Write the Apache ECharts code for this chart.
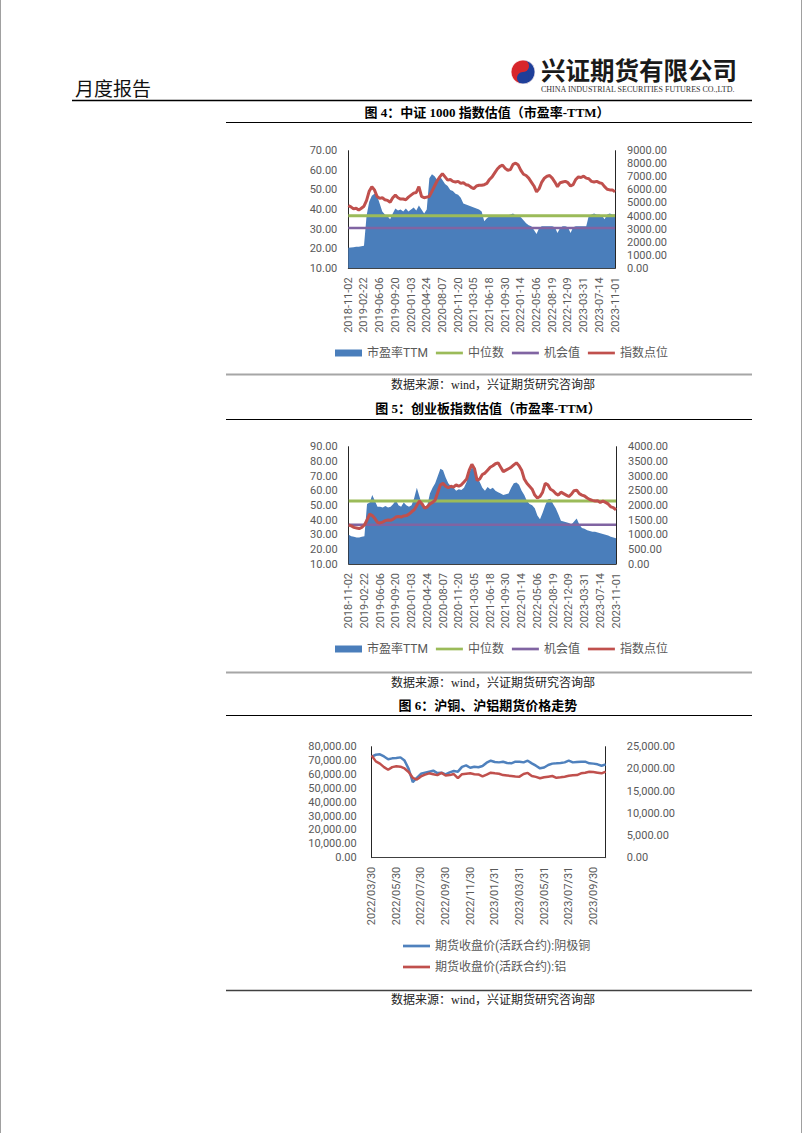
<!DOCTYPE html>
<html><head><meta charset="utf-8">
<script src="https://cdn.jsdelivr.net/npm/echarts@6/dist/echarts.min.js"></script>
<style>html,body{margin:0;padding:0;background:#fff}#c{width:802px;height:1133px}</style>
</head><body><div id="c"></div>
<script>
// ---------- Figure 4: CSI 1000 ----------
const TICKS_1 = ['2018-11-02','2019-02-22','2019-06-06','2019-09-20','2020-01-03','2020-04-24','2020-08-07','2020-11-20','2021-03-05','2021-06-18','2021-09-30','2022-01-14','2022-05-06','2022-08-19','2022-12-09','2023-03-31','2023-07-14','2023-11-01'];
const PE_1 = [
 20.5,20.6,20.8,21.0,21.0,21.3,
 21.5,37,44,47,48,47,
 43,39,37.5,36.5,35,38,
 40.5,39.5,40,39,40.5,39,
 40,41,39.5,42,40,38,
 40,56,58,57,55,57,
 55,53,52,50,49.5,48,
 47.5,46,43,42.5,42,41.5,
 41,40.5,40,39,34,35.5,
 36.5,36.5,37,36.5,37,36.5,
 36.5,37,37.5,38,37,36.5,
 36,34.5,33,32,31.5,29.5,
 27.5,30.5,31.5,31.5,31.5,31.5,
 31.5,31,28,30.5,31.5,31.5,
 31,28,31,31.5,31.5,31.5,
 31.5,31.5,37,37.5,38,37.5,
 37.5,37,35,37.5,38,37.5,
 37.5];
const INDEX_1 = [
 4800,4700,4550,4600,4450,4600,
 4750,5200,5900,6250,6000,5500,
 5350,5400,5250,5200,5050,5400,
 5600,5400,5300,5300,5250,5450,
 5600,5750,5800,6250,5500,5400,
 5450,5500,5900,6300,6700,7000,
 7250,7000,6750,6800,6650,6600,
 6650,6500,6550,6400,6350,6200,
 6100,6300,6350,6350,6400,6500,
 6800,7000,7300,7600,7800,7900,
 7650,7500,7550,7950,8050,7900,
 7500,7200,7100,6900,6600,6300,
 5850,6100,6600,6900,7050,7100,
 6900,6600,6250,6550,6600,6650,
 6550,6300,6400,6800,7000,6950,
 7050,6900,6850,6650,6600,6650,
 6550,6500,6250,6050,6000,6000,
 5850];
const MEDIAN_1 = 36.8;
const CHANCE_1 = 30.6;

// ---------- Figure 5: ChiNext ----------
const TICKS_2 = ['2018-11-02','2019-02-22','2019-06-06','2019-09-20','2020-01-03','2020-04-24','2020-08-07','2020-11-20','2021-03-05','2021-06-18','2021-09-30','2022-01-14','2022-05-06','2022-08-19','2022-12-09','2023-03-31','2023-07-14','2023-11-01'];
const PE_2 = [
 30,29,28.5,28,28,28.5,
 29,51,52,57,53,49,
 49,48.5,49.5,48.5,49,51,
 53.5,50,49,52,50,49,
 50,55,62,56,50,49,
 50,58,62,65,70,75,
 74,69,65,63,62,60,
 61,60.5,62,66,72,76,
 74,69,66,62,60,62.5,
 61,62,60,59,58,57,
 57.5,58,62,65,65.5,64,
 60,57,53,51,50,48,
 43,40.5,45,50,54,54.5,
 51,48,44,39.5,39,38.5,
 38,37,39,41,37,34.5,
 34,33,32.5,32,32,31.5,
 31,30.5,30,29.5,28.5,28,
 27.5];
const INDEX_2 = [
 1330,1300,1250,1230,1210,1250,
 1330,1500,1700,1650,1550,1420,
 1400,1430,1480,1500,1490,1530,
 1600,1620,1600,1640,1650,1700,
 1780,1850,2000,2150,2050,1900,
 1950,2050,2100,2180,2450,2700,
 2750,2650,2600,2650,2620,2700,
 2650,2700,2800,2900,3200,3400,
 3250,2850,2900,3050,3100,3200,
 3300,3350,3420,3450,3300,3150,
 3200,3250,3300,3380,3450,3350,
 3200,2900,2750,2650,2550,2350,
 2250,2300,2450,2750,2700,2550,
 2500,2400,2350,2450,2400,2350,
 2300,2380,2500,2520,2400,2350,
 2320,2250,2200,2170,2150,2160,
 2100,2150,2100,2050,1950,1920,
 1850];
const MEDIAN_2 = 53.0;
const CHANCE_2 = 36.8;

// ---------- Figure 6: SHFE copper & aluminium ----------
const TICKS_3 = ['2022/03/30','2022/05/30','2022/07/30','2022/09/30','2022/11/30','2023/01/31','2023/03/31','2023/05/31','2023/07/31','2023/09/30'];
const COPPER = [
 72800,74200,74500,73000,71000,71600,
 71800,72300,70000,64000,54500,57500,
 60500,61300,62000,62700,61000,61300,
 60000,61500,62500,62000,65500,66500,
 64800,65600,65200,66100,68500,69900,
 69000,68700,69200,68300,68000,69200,
 69200,68700,69900,68000,66300,64400,
 65000,66800,67800,68000,68300,68700,
 69900,68700,69000,69200,69200,68000,
 67800,67300,66300,67300];
const ALUMINUM = [
 23000,21700,21200,20400,19800,20400,
 20600,20500,20100,19300,18000,17600,
 18300,18700,19000,18800,18600,19100,
 18500,18600,18850,17900,18800,18900,
 19000,18800,18750,18300,18700,19150,
 19000,18900,18600,18500,18400,18300,
 18250,18850,19100,18400,18200,17900,
 18100,18250,18400,18000,18100,18250,
 18450,18550,18600,19000,19150,19350,
 19300,19150,19000,19370];

// ---------- helpers ----------
function slots(ticks, per, tail) {
  const out = [];
  ticks.forEach((t, k) => {
    out.push(t);
    const n = k < ticks.length - 1 ? per - 1 : tail;
    for (let j = 1; j <= n; j++) out.push(t + '#' + j);
  });
  return out;
}
const CAT_1 = slots(TICKS_1, 6, 0);
const CAT_2 = slots(TICKS_2, 6, 0);
const CAT_3 = slots(TICKS_3, 6, 3);

const NUM_FONT = 'Roboto, "Noto Sans CJK SC", sans-serif';
const SERIF = '"Liberation Serif", "Noto Sans CJK SC", serif';
const AX_COLOR = '#595959';
const LINE_ICON = 'path://M0,0H30V3H0Z';
const BLUE = '#4A7EBB', GREEN = '#9BBB59', PURPLE = '#8064A2', RED = '#C0504D';

function xCat(gridIndex, data) {
  return {
    type: 'category', gridIndex, data, boundaryGap: false,
    axisLine: {show: true, lineStyle: {color: '#404040', width: 1}},
    axisTick: {show: false},
    axisLabel: {
      interval: (i, v) => String(v).indexOf('#') < 0,
      rotate: 90, margin: 9, color: AX_COLOR, fontSize: 11, fontFamily: NUM_FONT
    },
    splitLine: {show: false}
  };
}
function yVal(gridIndex, pos, min, max, interval, fmt, margin) {
  return {
    type: 'value', gridIndex, position: pos, min, max, interval,
    axisLine: {show: true, lineStyle: {color: '#262626', width: 1}},
    axisTick: {show: false},
    splitLine: {show: false},
    axisLabel: {formatter: fmt, margin, color: AX_COLOR, fontSize: 11, fontFamily: NUM_FONT}
  };
}
const f2 = v => v.toFixed(2);
const fc = v => v.toLocaleString('en-US', {minimumFractionDigits: 2, maximumFractionDigits: 2});

function valuationSeries(xi, yl, yr, cats, pe, idx, med, chance) {
  return [
    {name: '市盈率TTM', type: 'line', xAxisIndex: xi, yAxisIndex: yl, data: pe, symbol: 'none',
     lineStyle: {width: 0}, itemStyle: {color: BLUE}, areaStyle: {color: BLUE, opacity: 1, origin: 'start'}},
    {name: '中位数', type: 'line', xAxisIndex: xi, yAxisIndex: yl, data: cats.map(() => med), symbol: 'none',
     lineStyle: {width: 3, color: GREEN}, itemStyle: {color: GREEN}},
    {name: '机会值', type: 'line', xAxisIndex: xi, yAxisIndex: yl, data: cats.map(() => chance), symbol: 'none',
     lineStyle: {width: 2.5, color: PURPLE}, itemStyle: {color: PURPLE}},
    {name: '指数点位', type: 'line', xAxisIndex: xi, yAxisIndex: yr, data: idx, symbol: 'none',
     lineStyle: {width: 3, color: RED}, itemStyle: {color: RED}}
  ];
}
function valuationLegend(top) {
  return {
    left: 330, top, itemWidth: 27, itemHeight: 7, itemGap: 8,
    itemStyle: {borderWidth: 0},
    textStyle: {fontSize: 12, color: AX_COLOR, fontFamily: NUM_FONT},
    data: [{name: '市盈率TTM', icon: 'rect'}, {name: '中位数', icon: LINE_ICON},
           {name: '机会值', icon: LINE_ICON}, {name: '指数点位', icon: LINE_ICON}]
  };
}

// ---------- page graphics ----------
const G = [];
function txt(x, y, s, font, fill, align) {
  G.push({type: 'text', silent: true, style: {x, y, text: s, font, fill,
    align: align || 'left', textAlign: align || 'left', verticalAlign: 'middle', textVerticalAlign: 'middle'}});
}
function hl(x1, x2, y, stroke, w) {
  G.push({type: 'line', silent: true, shape: {x1, y1: y, x2, y2: y}, style: {stroke, lineWidth: w}});
}
G.push({type: 'line', silent: true, shape: {x1: 0.5, y1: 0, x2: 0.5, y2: 1133}, style: {stroke: '#a0a0a0', lineWidth: 1}});
G.push({type: 'line', silent: true, shape: {x1: 801.5, y1: 0, x2: 801.5, y2: 1133}, style: {stroke: '#a0a0a0', lineWidth: 1}});
txt(75, 87, '月度报告', '19px "Noto Sans CJK SC", sans-serif', '#111', 'left');
hl(72, 752, 100.5, '#000', 1.5);
// logo
G.push({type: 'circle', silent: true, shape: {cx: 523, cy: 72, r: 12}, style: {fill: '#D7262B'}});
G.push({type: 'sector', silent: true, shape: {cx: 523, cy: 72, r: 12, r0: 0, startAngle: -Math.PI / 2, endAngle: Math.PI / 2, clockwise: true}, style: {fill: '#1F3F99'}});
G.push({type: 'circle', silent: true, shape: {cx: 523, cy: 66, r: 6}, style: {fill: '#D7262B'}});
G.push({type: 'circle', silent: true, shape: {cx: 523, cy: 78, r: 6}, style: {fill: '#1F3F99'}});
G.push({type: 'circle', silent: true, shape: {cx: 523, cy: 72, r: 12}, style: {fill: 'none', stroke: '#fff', lineWidth: 0.8}});
txt(541, 69, '兴证期货有限公司', 'bold 24.5px "Noto Sans CJK SC", sans-serif', '#1a1a1a', 'left');
txt(541, 89.5, 'CHINA INDUSTRIAL SECURITIES FUTURES CO.,LTD.', '8px "Liberation Serif", serif', '#333', 'left');

txt(487, 112, '图 4：中证 1000 指数估值（市盈率-TTM）', 'bold 13px ' + SERIF, '#000', 'center');
hl(226, 752, 122.5, '#000', 1);
hl(226, 752, 374.5, '#a6a6a6', 2);
txt(493, 385, '数据来源：wind，兴证期货研究咨询部', '12px ' + SERIF, '#222', 'center');

txt(488, 408, '图 5：创业板指数估值（市盈率-TTM）', 'bold 13px ' + SERIF, '#000', 'center');
hl(226, 752, 419.5, '#000', 1);
hl(226, 752, 672.5, '#a6a6a6', 2);
txt(493, 683, '数据来源：wind，兴证期货研究咨询部', '12px ' + SERIF, '#222', 'center');

txt(488, 705, '图 6：沪铜、沪铝期货价格走势', 'bold 13px ' + SERIF, '#000', 'center');
hl(226, 752, 715.5, '#000', 1);
hl(226, 752, 990.5, '#404040', 1.5);
txt(493, 1000, '数据来源：wind，兴证期货研究咨询部', '12px ' + SERIF, '#222', 'center');

const option = {
  animation: false,
  backgroundColor: '#fff',
  grid: [
    {left: 348.3, top: 150.7, width: 266.7, height: 117.6},
    {left: 348.7, top: 446.7, width: 267.3, height: 117.3},
    {left: 371.7, top: 746.7, width: 234, height: 111}
  ],
  xAxis: [xCat(0, CAT_1), xCat(1, CAT_2), xCat(2, CAT_3)],
  yAxis: [
    yVal(0, 'left', 10, 70, 10, f2, 11),
    yVal(0, 'right', 0, 9000, 1000, f2, 12),
    yVal(1, 'left', 10, 90, 10, f2, 11),
    yVal(1, 'right', 0, 4000, 500, f2, 12),
    yVal(2, 'left', 0, 80000, 10000, fc, 15),
    yVal(2, 'right', 0, 25000, 5000, fc, 21)
  ],
  legend: [
    valuationLegend(342),
    valuationLegend(638),
    {
      orient: 'vertical', left: 398, top: 935, itemWidth: 27, itemHeight: 7, itemGap: 9,
      itemStyle: {borderWidth: 0},
      textStyle: {fontSize: 12, color: AX_COLOR, fontFamily: NUM_FONT},
      data: [{name: '期货收盘价(活跃合约):阴极铜', icon: LINE_ICON}, {name: '期货收盘价(活跃合约):铝', icon: LINE_ICON}]
    }
  ],
  series: [
    ...valuationSeries(0, 0, 1, CAT_1, PE_1, INDEX_1, MEDIAN_1, CHANCE_1),
    ...valuationSeries(1, 2, 3, CAT_2, PE_2, INDEX_2, MEDIAN_2, CHANCE_2),
    {name: '期货收盘价(活跃合约):阴极铜', type: 'line', xAxisIndex: 2, yAxisIndex: 4, data: COPPER, symbol: 'none',
     lineStyle: {width: 2.5, color: '#4F81BD'}, itemStyle: {color: '#4F81BD'}},
    {name: '期货收盘价(活跃合约):铝', type: 'line', xAxisIndex: 2, yAxisIndex: 5, data: ALUMINUM, symbol: 'none',
     lineStyle: {width: 2.5, color: RED}, itemStyle: {color: RED}}
  ],
  graphic: {elements: G}
};
const chart = echarts.init(document.getElementById('c'), null, {renderer: 'svg', width: 802, height: 1133});
chart.setOption(option);
</script>
</body></html>
